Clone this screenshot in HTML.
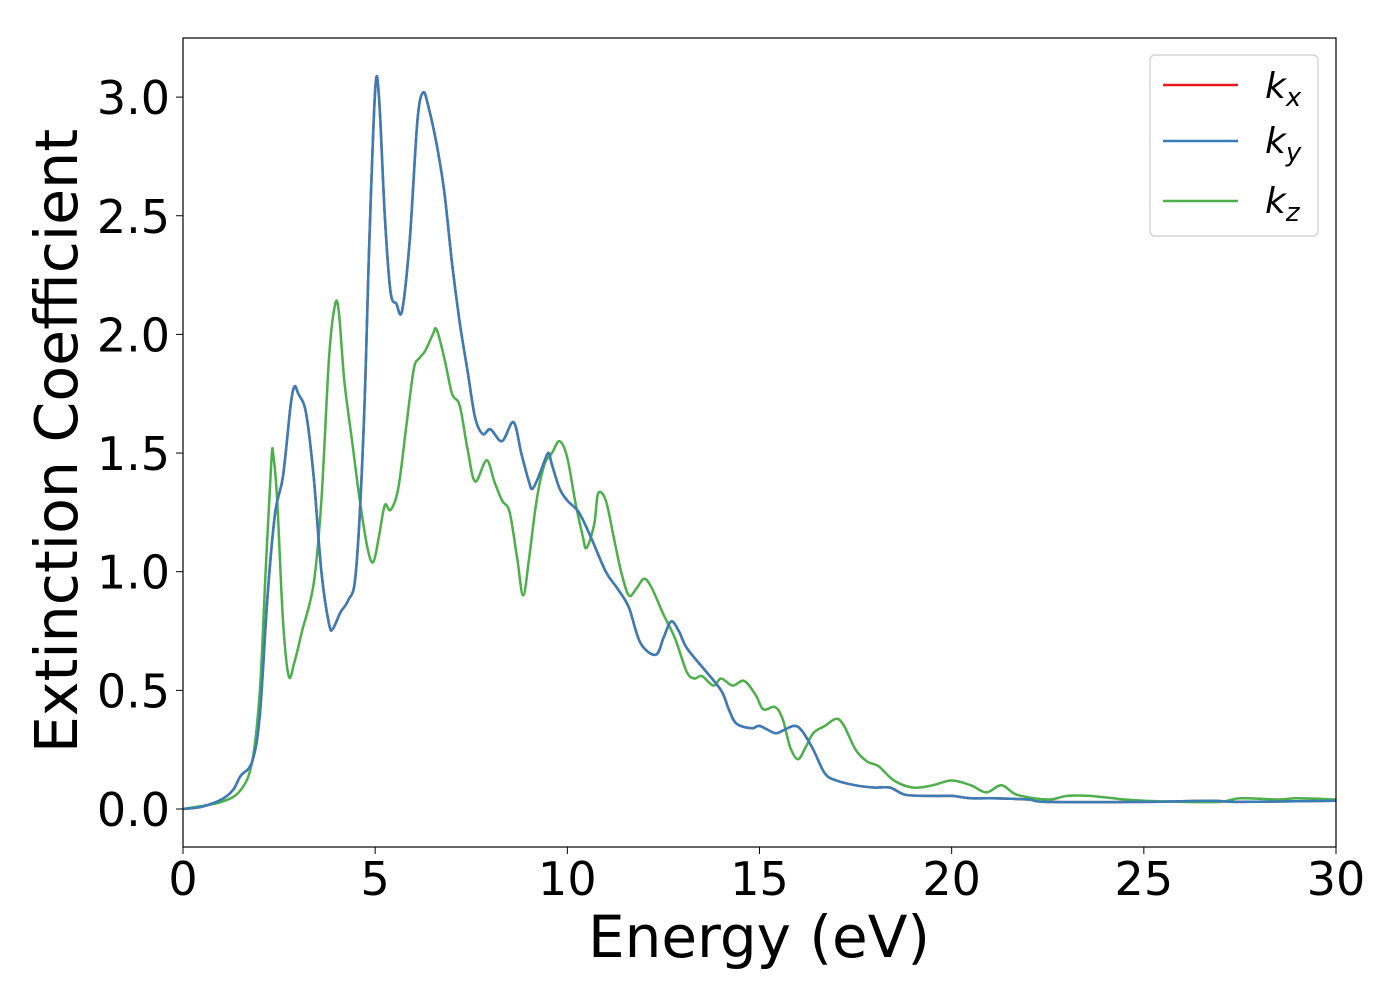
<!DOCTYPE html>
<html><head><meta charset="utf-8"><style>
html,body{margin:0;padding:0;background:#fff;}
svg{display:block;font-family:"DejaVu Sans","Liberation Sans",sans-serif;}
</style></head><body>
<svg id="chart" width="1400" height="1000" viewBox="0 0 1400 1000" xmlns="http://www.w3.org/2000/svg">
<rect x="0" y="0" width="1400" height="1000" fill="#fff"/>
<g id="series"></g>
<rect x="183" y="38" width="1153" height="809" fill="none" stroke="#000" stroke-width="1.2"/>
<g id="xticks"></g>
<g id="yticks"></g>
<text x="759" y="957" font-size="58" text-anchor="middle">Energy (eV)</text>
<text transform="translate(77,441) rotate(-90)" font-size="58.5" text-anchor="middle">Extinction Coefficient</text>
<g>
<rect x="1150" y="55" width="168" height="181" rx="5" fill="#fff" stroke="#ccc" stroke-width="1.2"/>
<line x1="1163" y1="85" x2="1238" y2="85" stroke="#e41a1c" stroke-width="2.5"/>
<text x="1265" y="98" font-size="36" font-style="italic">k<tspan font-size="26" dy="8">x</tspan></text>
<line x1="1163" y1="141" x2="1238" y2="141" stroke="#377eb8" stroke-width="2.5"/>
<text x="1265" y="153" font-size="36" font-style="italic">k<tspan font-size="26" dy="8">y</tspan></text>
<line x1="1163" y1="201" x2="1238" y2="201" stroke="#4daf4a" stroke-width="2.5"/>
<text x="1265" y="213" font-size="36" font-style="italic">k<tspan font-size="26" dy="8">z</tspan></text>
</g>
</svg>
<script>
const xTickLabels = [0,5,10,15,20,25,30];
const yTickLabels = [0.0,0.5,1.0,1.5,2.0,2.5,3.0];
const energyXY = [0,0.5,1,1.3,1.5,1.8,2.0,2.2,2.4,2.6,2.8,2.9,3.0,3.2,3.4,3.6,3.8,3.9,4.1,4.3,4.5,4.7,4.85,5.0,5.1,5.25,5.4,5.55,5.7,5.9,6.1,6.25,6.4,6.6,6.8,7.0,7.2,7.4,7.6,7.8,8.0,8.3,8.6,8.8,9.0,9.1,9.3,9.5,9.6,9.8,10.0,10.3,10.6,11.0,11.3,11.6,11.9,12.3,12.5,12.7,12.9,13.1,13.5,14.0,14.2,14.4,14.8,15.0,15.4,15.6,15.9,16.1,16.4,16.7,17.0,17.5,18.0,18.4,18.8,19.5,20.0,20.5,21.0,22.0,22.5,25,26.7,27.5,30];
const kxValues = [0,0.01,0.04,0.08,0.14,0.2,0.4,0.9,1.25,1.4,1.7,1.78,1.75,1.67,1.4,1.0,0.78,0.76,0.83,0.88,1.0,1.6,2.4,3.03,3.0,2.5,2.18,2.13,2.1,2.4,2.9,3.02,2.95,2.8,2.6,2.3,2.05,1.85,1.65,1.58,1.6,1.55,1.63,1.5,1.38,1.35,1.42,1.5,1.45,1.35,1.3,1.25,1.15,1.0,0.93,0.85,0.7,0.65,0.72,0.79,0.75,0.68,0.6,0.5,0.42,0.36,0.34,0.35,0.32,0.33,0.35,0.33,0.25,0.15,0.12,0.1,0.09,0.09,0.06,0.055,0.055,0.045,0.045,0.04,0.03,0.03,0.035,0.03,0.035];
const kyValues = kxValues.slice();
const energyZ = [0,1,1.5,1.8,2.0,2.15,2.3,2.35,2.45,2.6,2.75,2.9,3.1,3.4,3.6,3.8,3.95,4.05,4.2,4.4,4.6,4.8,4.95,5.1,5.25,5.4,5.6,5.8,6.0,6.15,6.3,6.5,6.6,6.8,7.0,7.2,7.4,7.6,7.9,8.1,8.3,8.5,8.7,8.85,9.0,9.2,9.4,9.6,9.8,10.0,10.2,10.4,10.5,10.7,10.8,11.0,11.2,11.4,11.6,11.8,12.0,12.2,12.5,12.8,13.1,13.3,13.5,13.8,14.0,14.3,14.6,14.9,15.1,15.4,15.6,15.8,16.0,16.2,16.4,16.7,17.0,17.2,17.5,17.8,18.1,18.5,19.0,19.5,20.0,20.5,20.9,21.3,21.7,22.5,23,23.6,24.5,25,26,27,27.5,28.5,29,30];
const kzValues = [0,0.03,0.08,0.2,0.5,1.0,1.47,1.49,1.3,0.8,0.56,0.62,0.75,0.95,1.3,1.9,2.12,2.1,1.8,1.55,1.3,1.1,1.04,1.15,1.28,1.26,1.35,1.6,1.85,1.9,1.93,2.0,2.02,1.9,1.75,1.7,1.52,1.38,1.47,1.38,1.3,1.25,1.05,0.9,1.05,1.3,1.45,1.5,1.55,1.48,1.3,1.15,1.1,1.2,1.33,1.3,1.15,1.0,0.9,0.93,0.97,0.93,0.82,0.72,0.58,0.55,0.56,0.52,0.55,0.52,0.54,0.48,0.42,0.43,0.38,0.26,0.21,0.26,0.32,0.35,0.38,0.35,0.25,0.2,0.18,0.12,0.09,0.1,0.12,0.1,0.07,0.1,0.06,0.04,0.055,0.055,0.04,0.035,0.03,0.03,0.045,0.04,0.045,0.04];

const NS = 'http://www.w3.org/2000/svg';
const xScale = v => 183 + (v - 0) / 30 * 1153;
const yScale = v => 809 - v * 237.3;

function smoothPath(xs, ys) {
  const p = xs.map((x, i) => [xScale(x), yScale(ys[i])]);
  let d = 'M' + p[0][0].toFixed(1) + ',' + p[0][1].toFixed(1);
  for (let i = 0; i < p.length - 1; i++) {
    const p0 = p[Math.max(0, i - 1)], p1 = p[i], p2 = p[i + 1], p3 = p[Math.min(p.length - 1, i + 2)];
    const c1 = [p1[0] + (p2[0] - p0[0]) / 6, p1[1] + (p2[1] - p0[1]) / 6];
    const c2 = [p2[0] - (p3[0] - p1[0]) / 6, p2[1] - (p3[1] - p1[1]) / 6];
    d += 'C' + c1[0].toFixed(1) + ',' + c1[1].toFixed(1) + ' ' + c2[0].toFixed(1) + ',' + c2[1].toFixed(1) + ' ' + p2[0].toFixed(1) + ',' + p2[1].toFixed(1);
  }
  return d;
}
const series = document.getElementById('series');
const clip = document.createElementNS(NS, 'clipPath');
clip.setAttribute('id', 'plotclip');
const cr = document.createElementNS(NS, 'rect');
cr.setAttribute('x', 183); cr.setAttribute('y', 38); cr.setAttribute('width', 1153); cr.setAttribute('height', 809);
clip.appendChild(cr);
series.appendChild(clip);
series.setAttribute('clip-path', 'url(#plotclip)');

const lx = document.createElementNS(NS, 'path');


lx.setAttribute('d', smoothPath(energyXY, kxValues));
lx.setAttribute('fill', 'none'); lx.setAttribute('stroke', '#e41a1c'); lx.setAttribute('stroke-width', '2.5');
series.appendChild(lx);

const lz = document.createElementNS(NS, 'path');


lz.setAttribute('d', smoothPath(energyZ, kzValues));
lz.setAttribute('fill', 'none'); lz.setAttribute('stroke', '#4daf4a'); lz.setAttribute('stroke-width', '2.5');
series.appendChild(lz);

const ly = document.createElementNS(NS, 'path');


ly.setAttribute('d', smoothPath(energyXY, kyValues));
ly.setAttribute('fill', 'none'); ly.setAttribute('stroke', '#377eb8'); ly.setAttribute('stroke-width', '2.5');
series.appendChild(ly);
series.appendChild(lz);
series.appendChild(ly);

const xg = document.getElementById('xticks');
xTickLabels.forEach(v => {
  const t = document.createElementNS(NS, 'line');
  
  
  t.setAttribute('x1', xScale(v)); t.setAttribute('x2', xScale(v));
  t.setAttribute('y1', 847); t.setAttribute('y2', 854);
  t.setAttribute('stroke', '#000');
  xg.appendChild(t);
  const s = document.createElementNS(NS, 'text');
  
  
  s.setAttribute('x', xScale(v)); s.setAttribute('y', 895);
  s.setAttribute('font-size', '46'); s.setAttribute('text-anchor', 'middle');
  s.textContent = String(v);
  xg.appendChild(s);
});
const yg = document.getElementById('yticks');
yTickLabels.forEach(v => {
  const t = document.createElementNS(NS, 'line');
  
  
  t.setAttribute('x1', 176); t.setAttribute('x2', 183);
  t.setAttribute('y1', yScale(v)); t.setAttribute('y2', yScale(v));
  t.setAttribute('stroke', '#000');
  yg.appendChild(t);
  const s = document.createElementNS(NS, 'text');
  
  
  s.setAttribute('x', 170); s.setAttribute('y', yScale(v) + 17);
  s.setAttribute('font-size', '46'); s.setAttribute('text-anchor', 'end');
  s.textContent = v.toFixed(1);
  yg.appendChild(s);
});
</script>
</body></html>
